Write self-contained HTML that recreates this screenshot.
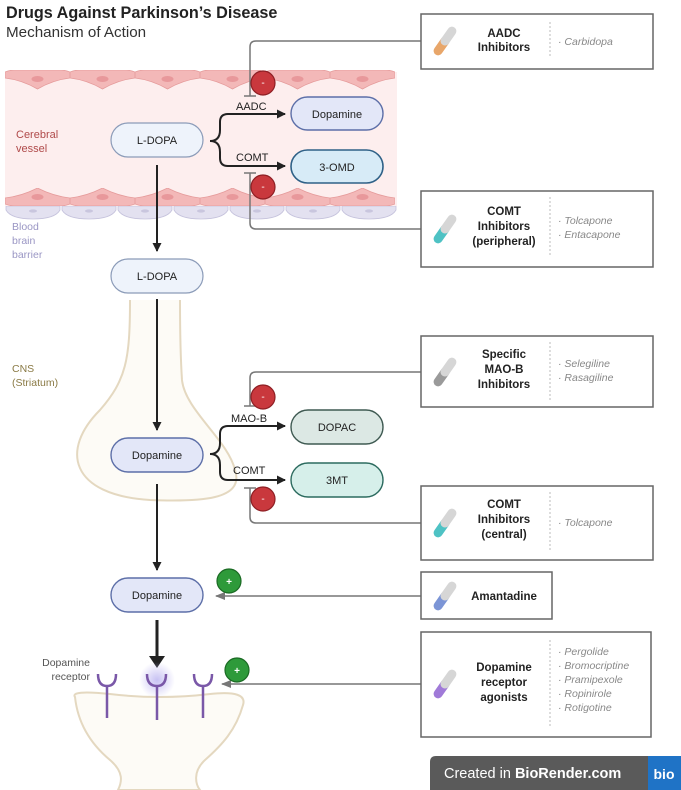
<!DOCTYPE html>
<html><head><meta charset="utf-8"><style>
html,body{margin:0;padding:0;background:#fff;}
svg{display:block;font-family:"Liberation Sans",sans-serif;}
</style></head><body>
<svg width="681" height="790" viewBox="0 0 681 790" xmlns="http://www.w3.org/2000/svg">
<defs>
<pattern id="topc" x="5" y="70" width="65" height="20" patternUnits="userSpaceOnUse">
<path d="M0,2 Q5,0 10,0 L55,0 Q60,0 65,2 L65,8 Q48,10 32.5,19 Q17,10 0,8 Z" fill="#f3b8b8" stroke="#e59a9a" stroke-width="0.8"/>
<ellipse cx="32.5" cy="9" rx="6" ry="3" fill="#e8989b"/>
</pattern>
<pattern id="botc" x="5" y="188" width="65" height="18" patternUnits="userSpaceOnUse">
<path d="M0,16 Q5,18 10,18 L55,18 Q60,18 65,16 L65,10 Q48,8 32.5,0 Q17,8 0,10 Z" fill="#f3b8b8" stroke="#e59a9a" stroke-width="0.8"/>
<ellipse cx="32.5" cy="9" rx="6" ry="3" fill="#e8989b"/>
</pattern>
<pattern id="bbb" x="5" y="206" width="56" height="14" patternUnits="userSpaceOnUse">
<path d="M1,0 L55,0 L55,4 Q50,13 28,13 Q6,13 1,4 Z" fill="#e3e1f0" stroke="#c5c2dc" stroke-width="0.8"/>
<ellipse cx="28" cy="5" rx="4" ry="1.6" fill="#c9c6de"/>
</pattern>
<marker id="ah" markerWidth="9" markerHeight="9" refX="8" refY="4.5" orient="auto" markerUnits="userSpaceOnUse"><path d="M0,0 L9,4.5 L0,9 Z" fill="#222"/></marker>
<marker id="ahg" markerWidth="10" markerHeight="10" refX="9" refY="5" orient="auto" markerUnits="userSpaceOnUse"><path d="M0,1 L10,5 L0,9 Z" fill="#777"/></marker>
<radialGradient id="glow"><stop offset="0" stop-color="#b9b2f0" stop-opacity="0.8"/><stop offset="1" stop-color="#b9b2f0" stop-opacity="0"/></radialGradient>
</defs>

<text x="6" y="18" font-size="16.2" font-weight="bold" fill="#222">Drugs Against Parkinson’s Disease</text>
<text x="6" y="37" font-size="15.2" fill="#333">Mechanism of Action</text>

<rect x="5" y="72" width="392" height="134" fill="#fdeeee"/>
<rect x="5" y="70" width="390" height="20" fill="url(#topc)"/>
<rect x="5" y="188" width="390" height="18" fill="url(#botc)"/>
<rect x="5" y="206" width="392" height="14" fill="url(#bbb)"/>
<text x="16" y="138" font-size="11" fill="#b04a4a">Cerebral</text>
<text x="16" y="152" font-size="11" fill="#b04a4a">vessel</text>
<text x="12" y="230" font-size="10.5" fill="#9a96c4">Blood</text>
<text x="12" y="244" font-size="10.5" fill="#9a96c4">brain</text>
<text x="12" y="258" font-size="10.5" fill="#9a96c4">barrier</text>

<path d="M130,300 C130,360 126,380 100,410 C60,450 70,495 150,500 C200,502 245,500 235,470 C228,440 185,410 182,380 C180,350 180,320 180,300" fill="#fdfbf6" stroke="#e4d8c0" stroke-width="2"/>
<text x="12" y="372" font-size="10.5" fill="#8a7a45">CNS</text>
<text x="12" y="386" font-size="10.5" fill="#8a7a45">(Striatum)</text>

<path d="M75,697 Q70,690 110,694 Q160,700 210,694 Q248,690 243,705 C236,730 222,745 205,760 C192,772 196,785 200,790 L118,790 C122,782 124,772 110,760 C92,745 78,725 75,697 Z" fill="#fdfbf6" stroke="#e4d8c0" stroke-width="2"/>

<g stroke="#777" stroke-width="1.5" fill="none">
<path d="M421,41 L256,41 Q250,41 250,47 L250,96"/>
<path d="M244,96 L256,96"/>
<path d="M421,229 L256,229 Q250,229 250,223 L250,173"/>
<path d="M244,173 L256,173"/>
<path d="M421,372 L256,372 Q250,372 250,378 L250,406"/>
<path d="M244,406 L256,406"/>
<path d="M421,523 L256,523 Q250,523 250,517 L250,488"/>
<path d="M244,488 L256,488"/>
</g>
<line x1="421" y1="596" x2="216" y2="596" stroke="#777" stroke-width="1.5" marker-end="url(#ahg)"/>
<line x1="421" y1="684" x2="222" y2="684" stroke="#777" stroke-width="1.5" marker-end="url(#ahg)"/>

<g stroke="#222" stroke-width="2" fill="none">
<line x1="157" y1="165" x2="157" y2="251" marker-end="url(#ah)"/>
<line x1="157" y1="299" x2="157" y2="430" marker-end="url(#ah)"/>
<line x1="157" y1="484" x2="157" y2="570" marker-end="url(#ah)"/>
<path d="M210,141 Q220,141 220,130 L220,122 Q220,114 228,114 L285,114" marker-end="url(#ah)"/>
<path d="M210,141 Q220,141 220,152 L220,158 Q220,166 228,166 L285,166" marker-end="url(#ah)"/>
<path d="M210,454 Q220,454 220,443 L220,434 Q220,426 228,426 L285,426" marker-end="url(#ah)"/>
<path d="M210,454 Q220,454 220,465 L220,472 Q220,480 228,480 L285,480" marker-end="url(#ah)"/>
</g>
<line x1="157" y1="620" x2="157" y2="660" stroke="#222" stroke-width="3"/>
<path d="M149,656 L165,656 L157,668 Z" fill="#222"/>

<text x="236" y="110" font-size="11" fill="#222">AADC</text>
<text x="236" y="161" font-size="11" fill="#222">COMT</text>
<text x="231" y="422" font-size="11" fill="#222">MAO-B</text>
<text x="233" y="474" font-size="11" fill="#222">COMT</text>

<g font-size="11" text-anchor="middle" fill="#222">
<rect x="111" y="123" width="92" height="34" rx="17" fill="#eef3fb" stroke="#8b9bb8" stroke-width="1.2"/><text x="157" y="144">L-DOPA</text>
<rect x="291" y="97" width="92" height="33" rx="16.5" fill="#e3e7f8" stroke="#5d6fa8" stroke-width="1.4"/><text x="337" y="118">Dopamine</text>
<rect x="291" y="150" width="92" height="33" rx="16.5" fill="#d7ebf7" stroke="#2f6187" stroke-width="1.6"/><text x="337" y="171">3-OMD</text>
<rect x="111" y="259" width="92" height="34" rx="17" fill="#eef3fb" stroke="#8b9bb8" stroke-width="1.2"/><text x="157" y="280">L-DOPA</text>
<rect x="111" y="438" width="92" height="34" rx="17" fill="#e3e7f8" stroke="#5d6fa8" stroke-width="1.4"/><text x="157" y="459">Dopamine</text>
<rect x="291" y="410" width="92" height="34" rx="17" fill="#dce8e4" stroke="#3f5a52" stroke-width="1.4"/><text x="337" y="431">DOPAC</text>
<rect x="291" y="463" width="92" height="34" rx="17" fill="#d6efea" stroke="#2c6b5f" stroke-width="1.4"/><text x="337" y="484">3MT</text>
<rect x="111" y="578" width="92" height="34" rx="17" fill="#e3e7f8" stroke="#5d6fa8" stroke-width="1.4"/><text x="157" y="599">Dopamine</text>
</g>

<g font-size="10" text-anchor="middle" fill="#fff">
<circle cx="263" cy="83" r="12" fill="#c9383d" stroke="#8e1f24" stroke-width="1.2"/><text x="263" y="86">-</text>
<circle cx="263" cy="187" r="12" fill="#c9383d" stroke="#8e1f24" stroke-width="1.2"/><text x="263" y="190">-</text>
<circle cx="263" cy="397" r="12" fill="#c9383d" stroke="#8e1f24" stroke-width="1.2"/><text x="263" y="400">-</text>
<circle cx="263" cy="499" r="12" fill="#c9383d" stroke="#8e1f24" stroke-width="1.2"/><text x="263" y="502">-</text>
<circle cx="229" cy="581" r="12" fill="#2e9a3a" stroke="#1b6a24" stroke-width="1.2"/><text x="229" y="585" font-weight="bold">+</text>
<circle cx="237" cy="670" r="12" fill="#2e9a3a" stroke="#1b6a24" stroke-width="1.2"/><text x="237" y="674" font-weight="bold">+</text>
</g>

<circle cx="157" cy="680" r="18" fill="url(#glow)"/>
<g stroke="#7a58a8" stroke-width="2.5" fill="none">
<path d="M98,674 Q98,686 107,686 Q116,686 116,674"/><line x1="107" y1="686" x2="107" y2="718"/>
<path d="M147,674 Q147,686 157,686 Q166,686 166,674"/><line x1="157" y1="686" x2="157" y2="720"/>
<path d="M194,674 Q194,686 203,686 Q212,686 212,674"/><line x1="203" y1="686" x2="203" y2="718"/>
</g>
<text x="90" y="666" font-size="10.5" fill="#555" text-anchor="end">Dopamine</text>
<text x="90" y="680" font-size="10.5" fill="#555" text-anchor="end">receptor</text>

<g fill="#fff" stroke="#666" stroke-width="1.5">
<rect x="421" y="14" width="232" height="55"/>
<rect x="421" y="191" width="232" height="76"/>
<rect x="421" y="336" width="232" height="71"/>
<rect x="421" y="486" width="232" height="74"/>
<rect x="421" y="572" width="131" height="47"/>
<rect x="421" y="632" width="230" height="105"/>
</g>
<g stroke="#bbb" stroke-width="1" stroke-dasharray="2,2">
<line x1="550" y1="22" x2="550" y2="56"/>
<line x1="550" y1="197" x2="550" y2="256"/>
<line x1="550" y1="342" x2="550" y2="400"/>
<line x1="550" y1="492" x2="550" y2="552"/>
<line x1="550" y1="640" x2="550" y2="728"/>
</g>

<g stroke-linecap="round">
<g transform="translate(445,41) rotate(-55)"><line x1="-12" y1="0" x2="0" y2="0" stroke="#e8a66a" stroke-width="9"/><line x1="0" y1="0" x2="12" y2="0" stroke="#d6d6d6" stroke-width="9"/></g>
<g transform="translate(445,229) rotate(-55)"><line x1="-12" y1="0" x2="0" y2="0" stroke="#4ec2c4" stroke-width="9"/><line x1="0" y1="0" x2="12" y2="0" stroke="#d6d6d6" stroke-width="9"/></g>
<g transform="translate(445,372) rotate(-55)"><line x1="-12" y1="0" x2="0" y2="0" stroke="#9a9a9a" stroke-width="9"/><line x1="0" y1="0" x2="12" y2="0" stroke="#d6d6d6" stroke-width="9"/></g>
<g transform="translate(445,523) rotate(-55)"><line x1="-12" y1="0" x2="0" y2="0" stroke="#4ec2c4" stroke-width="9"/><line x1="0" y1="0" x2="12" y2="0" stroke="#d6d6d6" stroke-width="9"/></g>
<g transform="translate(445,596) rotate(-55)"><line x1="-12" y1="0" x2="0" y2="0" stroke="#7c95d6" stroke-width="9"/><line x1="0" y1="0" x2="12" y2="0" stroke="#d6d6d6" stroke-width="9"/></g>
<g transform="translate(445,684) rotate(-55)"><line x1="-12" y1="0" x2="0" y2="0" stroke="#a07ad8" stroke-width="9"/><line x1="0" y1="0" x2="12" y2="0" stroke="#d6d6d6" stroke-width="9"/></g>
</g>

<g font-size="11.5" font-weight="bold" fill="#222" text-anchor="middle">
<text x="504" y="37">AADC</text><text x="504" y="51">Inhibitors</text>
<text x="504" y="215">COMT</text><text x="504" y="230">Inhibitors</text><text x="504" y="245">(peripheral)</text>
<text x="504" y="358">Specific</text><text x="504" y="373">MAO-B</text><text x="504" y="388">Inhibitors</text>
<text x="504" y="508">COMT</text><text x="504" y="523">Inhibitors</text><text x="504" y="538">(central)</text>
<text x="504" y="600">Amantadine</text>
<text x="504" y="671">Dopamine</text><text x="504" y="686">receptor</text><text x="504" y="701">agonists</text>
</g>
<g font-size="10.5" font-style="italic" fill="#888">
<text x="558" y="45">· Carbidopa</text>
<text x="558" y="224">· Tolcapone</text><text x="558" y="238">· Entacapone</text>
<text x="558" y="367">· Selegiline</text><text x="558" y="381">· Rasagiline</text>
<text x="558" y="526">· Tolcapone</text>
<text x="558" y="655">· Pergolide</text><text x="558" y="669">· Bromocriptine</text><text x="558" y="683">· Pramipexole</text><text x="558" y="697">· Ropinirole</text><text x="558" y="711">· Rotigotine</text>
</g>

<path d="M436,756 L681,756 L681,790 L430,790 L430,762 Q430,756 436,756 Z" fill="#5a5a5a"/>
<rect x="648" y="756" width="33" height="34" fill="#1f73c6"/>
<text x="444" y="778" font-size="14.5" fill="#fff">Created in <tspan font-weight="bold">BioRender.com</tspan></text>
<text x="664" y="779" font-size="14" font-weight="bold" fill="#fff" text-anchor="middle">bio</text>
</svg>
</body></html>
